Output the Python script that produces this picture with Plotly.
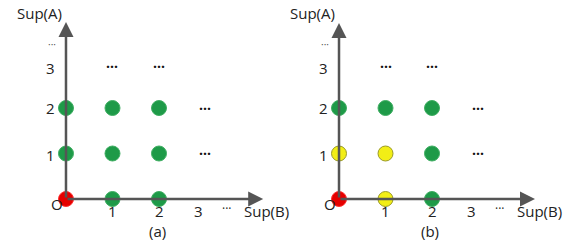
import plotly.graph_objects as go

# ---- data ----
a_green_x = [0, 0, 1, 1, 1, 2, 2, 2]
a_green_y = [1, 2, 0, 1, 2, 0, 1, 2]
a_red_x = [0]
a_red_y = [0]

b_green_x = [0, 1, 2, 2, 2]
b_green_y = [2, 2, 0, 1, 2]
b_yellow_x = [0, 1, 1]
b_yellow_y = [1, 1, 0]
b_red_x = [0]
b_red_y = [0]

x_tick_vals = [1, 2, 2.84]
x_tick_text = ["1", "2", "3"]
y_tick_vals = [0.97, 2.0, 2.88]
y_tick_text = ["1", "2", "3"]
panel_labels = ["(a)", "(b)"]

GREEN = "#1e9a48"
RED = "#e50000"
YELLOW = "#f2ee16"
AXIS = "#555555"
FONT = "Open Sans, Lato, sans-serif"

fig = go.Figure()

def dots(x, y, color, line, xa, ya):
    fig.add_trace(go.Scatter(x=x, y=y, mode="markers", xaxis=xa, yaxis=ya,
                             marker=dict(size=15, color=color, line=dict(color=line, width=1)),
                             hoverinfo="skip", showlegend=False))

ann = []

def panel(xref, yref, label, xtip, ytip):
    ann.append(dict(x=xtip, y=0, ax=0, ay=0, xref=xref, yref=yref, axref=xref, ayref=yref,
                    showarrow=True, arrowhead=2, arrowsize=1.2, arrowwidth=2.5, arrowcolor=AXIS, text=""))
    ann.append(dict(x=0, y=ytip, ax=0, ay=0, xref=xref, yref=yref, axref=xref, ayref=yref,
                    showarrow=True, arrowhead=2, arrowsize=1.2, arrowwidth=2.5, arrowcolor=AXIS, text=""))
    def t(x, y, s, size=15, color="#222222"):
        ann.append(dict(x=x, y=y, xref=xref, yref=yref, text=s, showarrow=False,
                        font=dict(family=FONT, size=size, color=color)))
    for v, s in zip(x_tick_vals, x_tick_text):
        t(v, -0.26, s)
    for v, s in zip(y_tick_vals, y_tick_text):
        t(-0.34, v, s)
    t(-0.19, -0.12, "O")
    t(3.46, -0.20, "···", 12)
    t(4.32, -0.26, "Sup(B)")
    t(-0.56, 4.09, "Sup(A)")
    t(-0.3, 3.40, "···", 10, "#555555")
    t(1.96, -0.70, label)
    for xv in [1, 2]:
        t(xv, 2.92, "<b>···</b>", 14, "#111111")
    for yv in [1, 2]:
        t(2.99, yv, "<b>···</b>", 14, "#111111")

panel("x", "y", panel_labels[0], 4.24, 3.89)
panel("x2", "y2", panel_labels[1], 4.215, 3.87)

dots(a_green_x, a_green_y, GREEN, "#3fae62", "x", "y")
dots(a_red_x, a_red_y, RED, "#ff3333", "x", "y")
dots(b_green_x, b_green_y, GREEN, "#3fae62", "x2", "y2")
dots(b_yellow_x, b_yellow_y, YELLOW, "#9a9a2a", "x2", "y2")
dots(b_red_x, b_red_y, RED, "#ff3333", "x2", "y2")

ax_common = dict(visible=False, showgrid=False, zeroline=False, fixedrange=True)
fig.update_layout(
    width=584, height=246,
    margin=dict(l=0, r=0, t=0, b=0),
    paper_bgcolor="white", plot_bgcolor="white",
    xaxis=dict(domain=[0, 0.5], range=[-1.419, 4.860], **ax_common),
    yaxis=dict(domain=[0, 1], range=[-1.033, 4.374], anchor="x", **ax_common),
    xaxis2=dict(domain=[0.5, 1], range=[-1.011, 5.269], anchor="y2", **ax_common),
    yaxis2=dict(domain=[0, 1], range=[-1.033, 4.374], anchor="x2", **ax_common),
    annotations=ann,
)

fig.write_html("out.html", config={"displayModeBar": False},
               post_script="document.body.style.margin='0';")
